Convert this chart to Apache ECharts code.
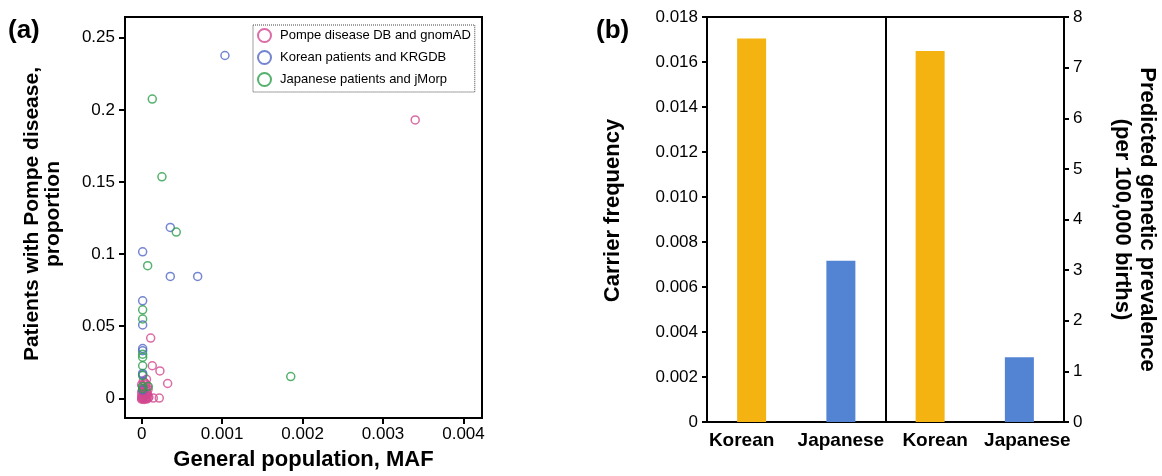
<!DOCTYPE html>
<html>
<head>
<meta charset="utf-8">
<script src="https://cdn.jsdelivr.net/npm/echarts@6/dist/echarts.min.js"></script>
<style>
html,body{margin:0;padding:0;background:#fff;}
#chart{width:1162px;height:476px;}
</style>
</head>
<body>
<div id="chart"></div>
<script>
// ---------- Panel (a) data: [general population MAF, proportion of patients] ----------
const pompeDbGnomad = [
  [0.0034, 0.193], [0.000112, 0.0418], [0.000132, 0.0226], [0.000227, 0.019],
  [0.000323, 0.0103], [0.00006, 0.0132], [0.000145, 0.0002], [0.000219, 0.0002],
  [0.00002, 0.012], [0.00005, 0.0098], [0.00001, 0.0085], [0.00003, 0.0066],
  [0.00006, 0.0052], [0.0, 0.0042], [0.00002, 0.0032], [0.00004, 0.0022],
  [0.00007, 0.0012], [0.00001, 0.0011], [0.00003, 0.0005], [0.0, 0.0],
  [0.00002, 0.0], [0.00005, 0.0], [0.00008, 0.0002], [0.00001, 0.0003],
  [0.00004, 0.0015], [0.00006, 0.0026], [0.00002, 0.0046], [0.00005, 0.0072],
  [0.0, 0.0018], [0.00003, -0.0008], [0.00007, 0.0035], [0.00008, 0.0062],
  [0.0, 0.0095], [0.00004, 0.0108], [0.00007, 0.0085], [0.00001, 0.0058],
  [0.00009, 0.0008], [0.00006, -0.0005], [0.0, -0.0006], [0.00004, 0.0040]
];
const koreanKrgdb = [
  [0.001035, 0.2377], [0.000356, 0.1185], [0.0000124, 0.1016], [0.000356, 0.0845],
  [0.000696, 0.0845], [0.0000124, 0.0676], [0.0000124, 0.0509], [0.0000124, 0.0345],
  [0.0000124, 0.033], [0.0000124, 0.0173], [0.0000124, 0.0163], [0.0000124, 0.0058]
];
const japaneseJmorp = [
  [0.000132, 0.2075], [0.000252, 0.1536], [0.00043, 0.1153], [0.0000745, 0.092],
  [0.001853, 0.0151], [0.0000124, 0.0614], [0.0000124, 0.055], [0.0000124, 0.0306],
  [0.0000124, 0.0285], [0.0000124, 0.0226], [0.0000124, 0.0158], [0.0000124, 0.0082],
  [0.000083, 0.0082], [0.0000124, 0.0068]
];
const xTicksA = [0, 0.001, 0.002, 0.003, 0.004];
const yTicksA = [0, 0.05, 0.1, 0.15, 0.2, 0.25];

// ---------- Panel (b) data ----------
const barCategories = ['Korean', 'Japanese', 'Korean', 'Japanese'];
const panelGroups = ['Carrier frequency', 'Predicted genetic prevalence'];
const carrierFrequency = [0.01704, 0.00717];   // Korean, Japanese
const predictedPrevalence = [7.33, 1.28];      // Korean, Japanese (per 100,000 births)

const FONT = '"Liberation Sans", Arial, sans-serif';
const PINK = '#D2478F', BLUE = '#5166C6', GREEN = '#2A9D4A';
const ORANGE = '#F5B311', BARBLUE = '#5383D3';

// small label nudges to mimic the original label placement
const catLabelPad = [[0, 20, 0, 0], [0, 0, 0, 0], [0, 0, 0, 10], [0, 0, 0, 16]];

const chart = echarts.init(document.getElementById('chart'), null, {renderer: 'canvas'});

const axisLineStyle = {color: '#000', width: 2};
const titleStyle = {fontSize: 22, fontWeight: 'bold', color: '#000', fontFamily: FONT, lineHeight: 23};

const option = {
  animation: false,
  backgroundColor: '#fff',
  textStyle: {fontFamily: FONT},
  graphic: [
    {type: 'text', left: 8, top: 18, style: {text: '(a)', font: 'bold 26px ' + FONT, fill: '#000'}},
    {type: 'text', left: 596, top: 18, style: {text: '(b)', font: 'bold 26px ' + FONT, fill: '#000'}}
  ],
  grid: [
    {left: 125, right: 680, top: 17, bottom: 54, show: true, borderColor: '#000', borderWidth: 2, backgroundColor: 'transparent'},
    {left: 707, right: 98, top: 17, bottom: 54, show: true, borderColor: '#000', borderWidth: 2, backgroundColor: 'transparent'}
  ],
  legend: {
    data: ['Pompe disease DB and gnomAD', 'Korean patients and KRGDB', 'Japanese patients and jMorp'],
    orient: 'vertical',
    left: 253, top: 25,
    padding: [3, 4, 5, 4],
    itemWidth: 13, itemHeight: 13, itemGap: 7,
    borderColor: '#444', borderWidth: 1, borderType: 'dotted',
    itemStyle: {borderWidth: 2},
    textStyle: {fontSize: 13, color: '#000', fontFamily: FONT, padding: [0, 0, 0, 4]}
  },
  xAxis: [
    {
      gridIndex: 0, type: 'value', min: -0.000207, max: 0.00423,
      name: 'General population, MAF', nameLocation: 'middle', nameGap: 29,
      nameTextStyle: titleStyle,
      axisLine: {show: true, onZero: false, lineStyle: axisLineStyle},
      axisTick: {show: true, length: 6, lineStyle: {color: '#000', width: 2}, customValues: xTicksA},
      axisLabel: {customValues: xTicksA, formatter: v => String(v), fontSize: 17, color: '#000', margin: 8, fontFamily: FONT},
      splitLine: {show: false}
    },
    {
      gridIndex: 1, type: 'category',
      data: barCategories.map((c, i) => ({value: c, textStyle: {padding: catLabelPad[i]}})),
      axisLine: {show: true, lineStyle: axisLineStyle},
      axisTick: {show: false},
      axisLabel: {fontSize: 19, fontWeight: 'bold', color: '#000', margin: 9, fontFamily: FONT, interval: 0},
      splitLine: {show: false}
    },
    {
      // two-group axis used only to draw the divider between the two halves of panel (b)
      gridIndex: 1, type: 'category', data: panelGroups, position: 'bottom',
      axisLine: {show: false}, axisTick: {show: false}, axisLabel: {show: false},
      splitLine: {show: true, interval: 0, lineStyle: {color: '#000', width: 2}}
    }
  ],
  yAxis: [
    {
      gridIndex: 0, type: 'value', min: -0.0137, max: 0.2644,
      name: 'Patients with Pompe disease,\nproportion', nameLocation: 'middle', nameGap: 61, nameRotate: 90,
      nameTextStyle: Object.assign({}, titleStyle, {fontSize: 21, lineHeight: 21, padding: [0, 0, 0, 7]}),
      axisLine: {show: true, onZero: false, lineStyle: axisLineStyle},
      axisTick: {show: true, length: 6, lineStyle: {color: '#000', width: 2}, customValues: yTicksA},
      axisLabel: {customValues: yTicksA, formatter: v => String(v), fontSize: 17, color: '#000', margin: 10, fontFamily: FONT},
      splitLine: {show: false}
    },
    {
      gridIndex: 1, type: 'value', min: 0, max: 0.018, interval: 0.002, position: 'left',
      name: 'Carrier frequency', nameLocation: 'middle', nameGap: 83, nameRotate: 90,
      nameTextStyle: Object.assign({}, titleStyle, {padding: [0, 0, 0, 18]}),
      axisLine: {show: true, lineStyle: axisLineStyle},
      axisTick: {show: true, length: 5, lineStyle: {color: '#000', width: 2}},
      axisLabel: {formatter: v => (v === 0 ? '0' : v.toFixed(3)), fontSize: 17, color: '#000', margin: 9, fontFamily: FONT},
      splitLine: {show: false}
    },
    {
      gridIndex: 1, type: 'value', min: 0, max: 8, interval: 1, position: 'right',
      name: 'Predicted genetic prevalence\n(per 100,000 births)', nameLocation: 'middle', nameGap: 46, nameRotate: -90,
      nameTextStyle: Object.assign({}, titleStyle, {lineHeight: 25}),
      axisLine: {show: true, lineStyle: axisLineStyle},
      axisTick: {show: true, length: 5, lineStyle: {color: '#000', width: 2}},
      axisLabel: {fontSize: 17, color: '#000', margin: 9, fontFamily: FONT},
      splitLine: {show: false}
    }
  ],
  series: [
    {
      name: 'Pompe disease DB and gnomAD', type: 'scatter', xAxisIndex: 0, yAxisIndex: 0,
      data: pompeDbGnomad, symbol: 'circle', symbolSize: 8,
      itemStyle: {color: 'rgba(0,0,0,0)', borderColor: PINK, borderWidth: 1.5}
    },
    {
      name: 'Korean patients and KRGDB', type: 'scatter', xAxisIndex: 0, yAxisIndex: 0,
      data: koreanKrgdb, symbol: 'circle', symbolSize: 8,
      itemStyle: {color: 'rgba(0,0,0,0)', borderColor: BLUE, borderWidth: 1.5}
    },
    {
      name: 'Japanese patients and jMorp', type: 'scatter', xAxisIndex: 0, yAxisIndex: 0,
      data: japaneseJmorp, symbol: 'circle', symbolSize: 8,
      itemStyle: {color: 'rgba(0,0,0,0)', borderColor: GREEN, borderWidth: 1.5}
    },
    {
      name: 'Carrier frequency', type: 'bar', xAxisIndex: 1, yAxisIndex: 1,
      barWidth: 29, barGap: '-100%',
      data: [
        {value: carrierFrequency[0], itemStyle: {color: ORANGE}},
        {value: carrierFrequency[1], itemStyle: {color: BARBLUE}},
        '-', '-'
      ]
    },
    {
      name: 'Predicted genetic prevalence', type: 'bar', xAxisIndex: 1, yAxisIndex: 2,
      barWidth: 29, barGap: '-100%',
      data: [
        '-', '-',
        {value: predictedPrevalence[0], itemStyle: {color: ORANGE}},
        {value: predictedPrevalence[1], itemStyle: {color: BARBLUE}}
      ]
    }
  ]
};
chart.setOption(option);
</script>
</body>
</html>
